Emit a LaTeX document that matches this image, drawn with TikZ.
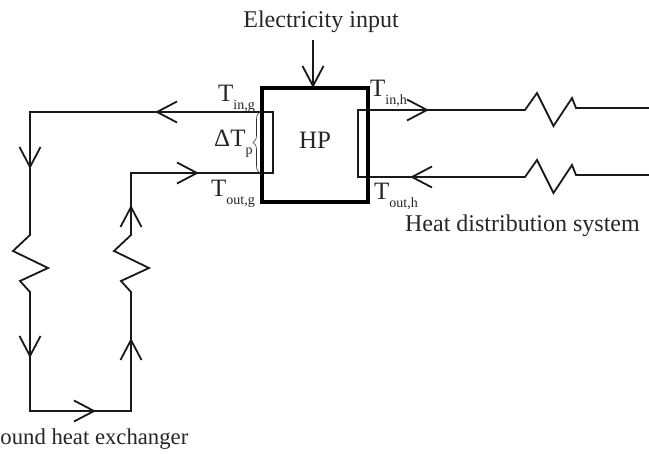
\documentclass[tikz,border=0pt]{standalone}
\usepackage{fontspec}
\setmainfont{Liberation Serif}
\usetikzlibrary{decorations.pathreplacing}
\newcommand{\vhead}[3]{\draw[pipe,shift={(#1,#2)},rotate=#3] (-20,-10.5) -- (0,0) -- (-20,10.5);}
\tikzset{
  pipe/.style={line width=1.8pt,draw=black!90,line join=miter},
  lbl/.style={font=\fontsize{24}{26}\selectfont,text=black!85,inner sep=0pt},
  tlbl/.style={font=\fontsize{25}{27}\selectfont,text=black!85,inner sep=0pt,anchor=base west}
}
\newcommand{\subs}[1]{\raisebox{-0.3em}{\fontsize{14}{15}\selectfont #1}}
\begin{document}
\begin{tikzpicture}[x=1pt,y=-1pt]
\useasboundingbox (0,0) rectangle (649,454);
% ground loop
\draw[pipe] (262,112) -- (30,112) -- (30,235) -- (13,251) -- (48,268) -- (20,281) -- (30,292) -- (30,411)
  -- (131,411) -- (131,292) -- (121,281) -- (149,268) -- (114,251) -- (131,235) -- (131,173) -- (262,173);
% heat distribution
\draw[pipe] (368,110) -- (525,110) -- (537,93) -- (553.5,126) -- (572,98) -- (576,108) -- (649,108);
\draw[pipe] (368,177) -- (525,177) -- (537,160) -- (553.5,193) -- (572,165) -- (576,175) -- (649,175);
% heat exchangers
\draw[pipe] (262,112) rectangle (273,173);
\draw[pipe] (358,110) rectangle (368,177);
% HP box
\node[draw=black,line width=4.5pt,minimum width=106pt,minimum height=114pt,inner sep=0pt] (hp) at (315,145) {};
\node[lbl,font=\fontsize{25}{27}\selectfont] (hplabel) at (315,140) {HP};
% electricity
\node[lbl,anchor=base] (elec) at (321,28) {Electricity input};
\coordinate (ein) at (313,40);
\draw[pipe] (ein) -- (hp.north -| ein);
% arrowheads
\vhead{157}{112}{180}
\vhead{30}{167}{-90}
\vhead{30}{356}{-90}
\vhead{94}{411}{0}
\vhead{131}{340}{90}
\vhead{131}{207}{90}
\vhead{197}{173}{0}
\vhead{313}{86}{-90}
\vhead{427}{110}{0}
\vhead{412}{177}{180}
% brace
\draw[line width=0.6pt,black!80,decorate,decoration={brace,amplitude=7pt}] (260,173) -- (260,112);
% labels
\node[tlbl] (tig) at (218,102) {T\subs{in,g}};
\node[tlbl] (tog) at (211,197) {T\subs{out,g}};
\node[tlbl] (tih) at (370,97) {T\subs{in,h}};
\node[tlbl] (toh) at (374,200) {T\subs{out,h}};
\node[tlbl] (dt) at (214,147) {ΔT\subs{p}};
\node[lbl,anchor=base east] (hds) at (640,232) {Heat distribution system};
\node[lbl,font=\fontsize{22.7}{25}\selectfont,anchor=base east] (ghe) at (188.5,445) {ound heat exchanger};
\end{tikzpicture}
\end{document}
